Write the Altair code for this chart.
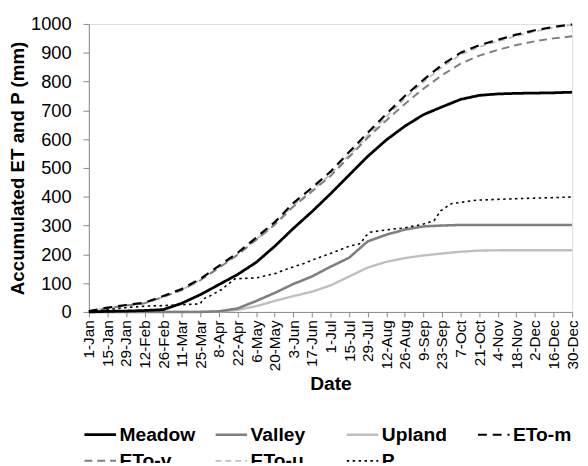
import altair as alt
import pandas as pd

tick_days = [0, 14, 28, 42, 56, 70, 84, 98, 112, 126, 140, 154, 168, 182, 196,
             210, 224, 238, 252, 266, 280, 294, 308, 322, 336, 350, 364]
tick_labels = ["1-Jan", "15-Jan", "29-Jan", "12-Feb", "26-Feb", "11-Mar", "25-Mar",
               "8-Apr", "22-Apr", "6-May", "20-May", "3-Jun", "17-Jun", "1-Jul",
               "15-Jul", "29-Jul", "12-Aug", "26-Aug", "9-Sep", "23-Sep", "7-Oct",
               "21-Oct", "4-Nov", "18-Nov", "2-Dec", "16-Dec", "30-Dec"]

meadow = [0, 2, 3, 5, 8, 30, 60, 95, 130, 172, 228, 290, 348, 410, 475, 540, 597,
          645, 685, 712, 738, 752, 757, 759, 760, 761, 763]
valley = [0, 0, 0, 0, 0, 0, 0, 2, 12, 38, 66, 97, 123, 157, 188, 245, 268, 286,
          297, 300, 302, 302, 302, 302, 302, 302, 302]
upland = [0, 0, 0, 0, 0, 0, 0, 1, 7, 20, 38, 55, 70, 92, 123, 154, 174, 187, 196,
          203, 209, 213, 214, 214, 214, 214, 214]
eto_m = [3, 15, 24, 32, 55, 80, 115, 160, 205, 258, 312, 378, 431, 487, 555, 622,
         687, 750, 806, 858, 900, 926, 945, 963, 978, 990, 998]
eto_v = [2, 13, 22, 30, 52, 76, 110, 153, 198, 250, 303, 366, 418, 472, 538, 605,
         665, 722, 775, 822, 862, 890, 910, 927, 940, 950, 957]
eto_u = [2, 13, 22, 30, 52, 77, 111, 155, 200, 252, 305, 370, 422, 478, 545, 613,
         677, 741, 798, 850, 893, 920, 940, 958, 974, 987, 997]

p_days = [0, 7, 14, 28, 42, 56, 70, 84, 86, 91, 100, 106, 110, 126, 140, 151, 162,
          168, 182, 196, 205, 208, 212, 224, 238, 252, 260, 265, 273, 292, 320, 364]
p_vals = [0, 3, 8, 15, 20, 22, 25, 28, 45, 55, 78, 100, 115, 118, 133, 152, 168,
          180, 203, 228, 238, 262, 277, 285, 292, 305, 317, 351, 376, 388, 393, 399]

series_names = ["Meadow", "Valley", "Upland", "ETo-m", "ETo-v", "ETo-u", "P"]
series_colors = ["#000000", "#7f7f7f", "#bfbfbf", "#000000", "#7f7f7f", "#bfbfbf", "#000000"]
series_dash = [[1, 0], [1, 0], [1, 0], [9, 6], [8, 5], [6, 4], [2.5, 3.5]]
series_width = [2.8, 1.6, 1.6, 3.0, 1.8, 1.8, 2.8]
draw_order = ["Upland", "ETo-u", "Valley", "ETo-v", "P", "Meadow", "ETo-m"]

rows = []
table = {"Meadow": meadow, "Valley": valley, "Upland": upland,
         "ETo-m": eto_m, "ETo-v": eto_v, "ETo-u": eto_u}
for name in draw_order:
    if name == "P":
        for d, v in zip(p_days, p_vals):
            rows.append({"series": name, "day": d, "value": v})
    else:
        for d, v in zip(tick_days, table[name]):
            rows.append({"series": name, "day": d, "value": v})
df = pd.DataFrame(rows)

label_expr = "[" + ",".join("'" + s + "'" for s in tick_labels) + "][round(datum.value/14)]"

legend = alt.Legend(
    orient="none", legendX=-6, legendY=399, columns=4, direction="horizontal",
    gridAlign="all", symbolType="stroke", symbolSize=1024, labelFontSize=19.5,
    labelFontWeight="bold", labelColor="black", columnPadding=15, rowPadding=0,
    labelOffset=2, title=None, padding=0, labelFont="Liberation Sans",
)

chart = alt.Chart(df).mark_line(strokeCap="butt").encode(
    x=alt.X("day:Q", scale=alt.Scale(domain=[0, 364], nice=False, zero=False),
            axis=alt.Axis(values=tick_days, labelExpr=label_expr, labelAngle=270,
                          title="Date", grid=False, labelFontSize=15.5,
                          labelColor="black", tickSize=5, labelPadding=3,
                          titleFontSize=19.5, titleFontWeight="bold",
                          titleColor="black", titlePadding=4,
                          domainColor="#888888", tickColor="#888888",
                          labelFlush=False, labelOverlap=False)),
    y=alt.Y("value:Q", scale=alt.Scale(domain=[0, 1000], nice=False),
            axis=alt.Axis(values=list(range(0, 1001, 100)), format="d",
                          title="Accumulated ET and P (mm)",
                          grid=False, labelFontSize=18.5, labelColor="black",
                          tickSize=6, labelPadding=12, titleFontSize=19,
                          titleFontWeight="bold", titleColor="black", titlePadding=3,
                          domainColor="#888888", tickColor="#888888")),
    color=alt.Color("series:N", scale=alt.Scale(domain=series_names, range=series_colors),
                    sort=series_names, legend=legend),
    strokeDash=alt.StrokeDash("series:N", scale=alt.Scale(domain=series_names, range=series_dash),
                              sort=series_names, legend=legend),
    strokeWidth=alt.StrokeWidth("series:N", scale=alt.Scale(domain=series_names, range=series_width),
                                sort=series_names, legend=legend),
    detail="series:N",
).properties(
    width=490, height=292,
    autosize=alt.AutoSizeParams(type="none"),
    padding={"left": 82, "top": 13, "right": 8, "bottom": 150},
).configure_view(stroke=None).configure(font="Liberation Sans")

chart.save("out.html", embed_options={"renderer": "svg", "actions": False})
